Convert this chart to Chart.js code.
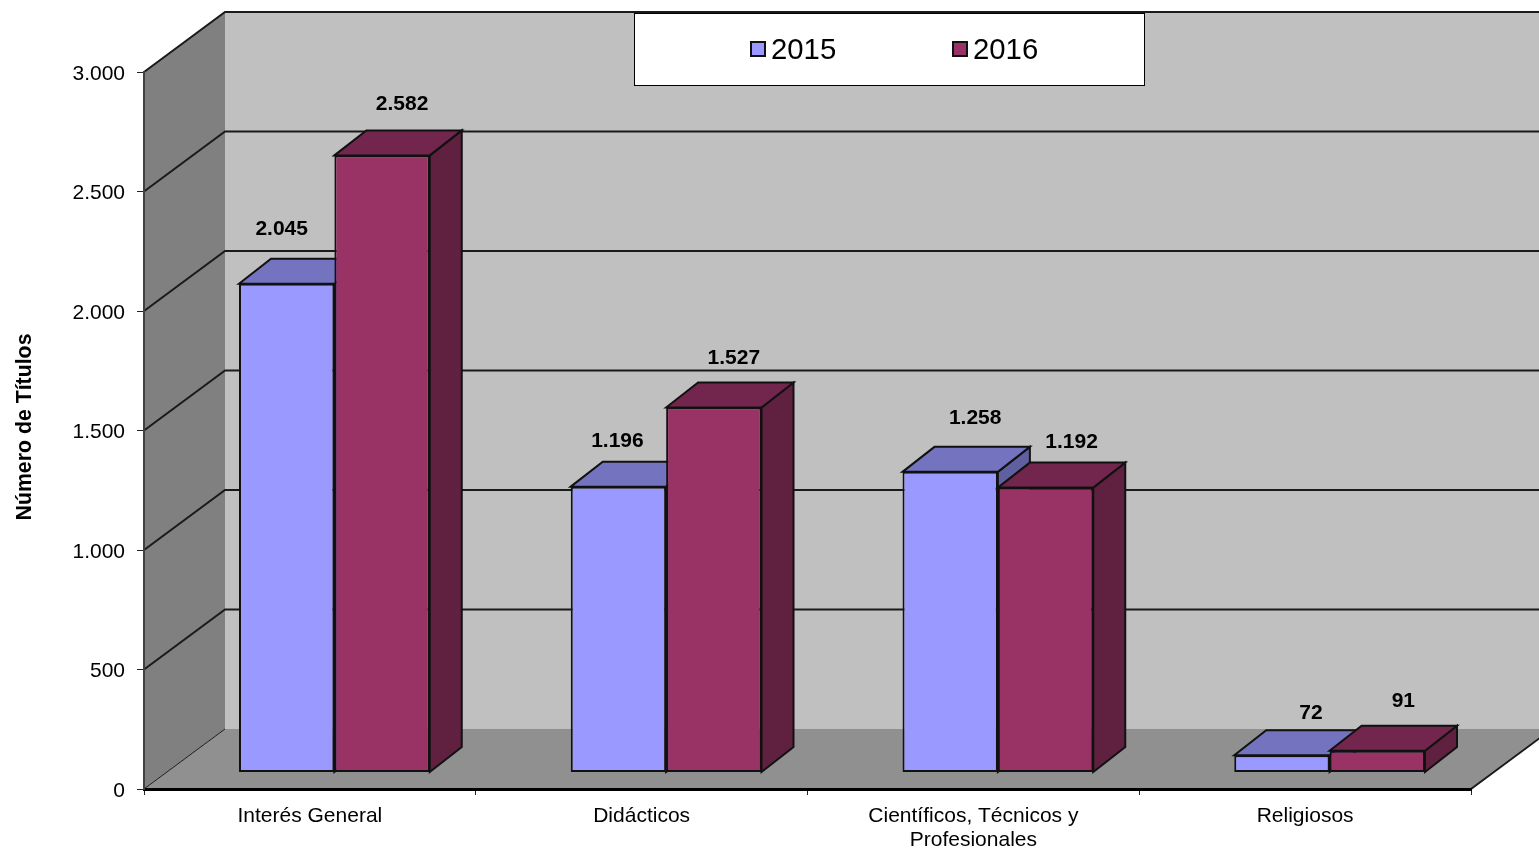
<!DOCTYPE html>
<html>
<head>
<meta charset="utf-8">
<style>html,body{margin:0;padding:0;background:#fff;overflow:hidden}canvas{display:block}</style>
<script src="https://cdn.jsdelivr.net/npm/chart.js@4"></script>
</head>
<body>
<canvas id="c" width="1539" height="851"></canvas>
<script>
const categories = ['Interés General', 'Didácticos', ['Científicos, Técnicos y', 'Profesionales'], 'Religiosos'];
const seriesNames = ['2015', '2016'];
const values2015 = [2045, 1196, 1258, 72];
const values2016 = [2582, 1527, 1192, 91];
const tickStep = 500;
const axisMax = 3000;
const axisTitle = 'Número de Títulos';

// label nudges, in pixels from the top-centre of each bar's front face
const nudgeX = [[-5, -1, 25, 29], [20, 20, 26, 26]];
const nudgeY = [[-54.5, -45.5, -53.5, -42.5], [-51.5, -49.5, -45.5, -49.5]];

const FONT = '"Liberation Sans", Arial, sans-serif';
const WALL = {dx: 81, dy: 60};
const BAR = {dx: 32, dy: 25, shiftX: 24.5, shiftY: 16.5};
const fmt = v => String(v).replace(/\B(?=(\d{3})+(?!\d))/g, '.');

const faces = [
  {front: '#9999ff', top: '#7373c0', side: '#6060a0'},
  {front: '#993366', top: '#73264d', side: '#602040'}
];

function poly(ctx, pts, fill, stroke, lw) {
  ctx.beginPath();
  pts.forEach((p, i) => i ? ctx.lineTo(p[0], p[1]) : ctx.moveTo(p[0], p[1]));
  ctx.closePath();
  if (fill) { ctx.fillStyle = fill; ctx.fill(); }
  if (stroke) { ctx.strokeStyle = stroke; ctx.lineWidth = lw; ctx.lineJoin = 'miter'; ctx.stroke(); }
}

const scene = {
  id: 'scene',
  beforeDraw(chart) {
    const {ctx, chartArea: a, scales: {y}} = chart;
    const bx = a.left + WALL.dx, d = WALL.dy;
    const far = a.right + WALL.dx;
    ctx.save();
    poly(ctx, [[bx, a.top - d], [far, a.top - d], [far, a.bottom - d], [bx, a.bottom - d]], '#c0c0c0');
    poly(ctx, [[a.left, a.top], [bx, a.top - d], [bx, a.bottom - d], [a.left, a.bottom]], '#808080');
    poly(ctx, [[a.left, a.bottom], [bx, a.bottom - d], [far, a.bottom - d], [a.right, a.bottom]], '#909090');
    ctx.strokeStyle = '#1a1a1a';
    ctx.lineWidth = 2;
    y.ticks.forEach(t => {
      const py = y.getPixelForValue(t.value);
      if (t.value === 0) return;
      ctx.beginPath();
      ctx.moveTo(a.left, py);
      ctx.lineTo(bx, py - d);
      ctx.lineTo(far, py - d);
      ctx.stroke();
    });
    ctx.lineWidth = 1;
    ctx.beginPath();
    ctx.moveTo(a.left, a.bottom);
    ctx.lineTo(bx, a.bottom - d);
    ctx.stroke();
    ctx.lineWidth = 2;
    ctx.beginPath();
    ctx.moveTo(a.right, a.bottom);
    ctx.lineTo(far, a.bottom - d);
    ctx.stroke();
    ctx.restore();
  },
  beforeDatasetsDraw(chart) {
    const {ctx, chartArea: a} = chart;
    const metas = chart.data.datasets.map((_, i) => chart.getDatasetMeta(i));
    ctx.save();
    ctx.translate(BAR.shiftX, -BAR.shiftY);
    categories.forEach((_, c) => {
      metas.forEach((m, s) => {
        const el = m.data[c];
        const {x, y, base, width} = el.getProps(['x', 'y', 'base', 'width'], true);
        const l = x - width / 2, r = x + width / 2;
        poly(ctx, [[r, y], [r + BAR.dx, y - BAR.dy], [r + BAR.dx, base - BAR.dy], [r, base]], faces[s].side, '#111', 2);
        poly(ctx, [[l, y], [l + BAR.dx, y - BAR.dy], [r + BAR.dx, y - BAR.dy], [r, y]], faces[s].top, '#111', 2);
        el.draw(ctx);
      });
    });
    ctx.fillStyle = '#000';
    ctx.font = 'bold 21px ' + FONT;
    ctx.textAlign = 'center';
    ctx.textBaseline = 'middle';
    metas.forEach((m, s) => m.data.forEach((el, c) => {
      const v = chart.data.datasets[s].data[c];
      ctx.fillText(fmt(v), el.x + nudgeX[s][c], el.y + nudgeY[s][c]);
    }));
    ctx.restore();

    // axis title, set slightly above the plot's centre as in the source
    ctx.save();
    ctx.translate(25, (a.top + a.bottom) / 2 - 3.5);
    ctx.rotate(-Math.PI / 2);
    ctx.fillStyle = '#000';
    ctx.font = 'bold 21.3px ' + FONT;
    ctx.textAlign = 'center';
    ctx.textBaseline = 'middle';
    ctx.fillText(axisTitle, 0, 0);
    ctx.restore();

    // legend
    ctx.save();
    ctx.fillStyle = '#fff';
    ctx.strokeStyle = '#000';
    ctx.lineWidth = 1;
    ctx.fillRect(634.5, 13.5, 510, 72);
    ctx.strokeRect(634.5, 13.5, 510, 72);
    ctx.font = '29.3px ' + FONT;
    ctx.textBaseline = 'middle';
    ctx.textAlign = 'left';
    chart.data.datasets.forEach((ds, i) => {
      const sx = 751 + i * 202;
      ctx.fillStyle = ds.backgroundColor;
      ctx.fillRect(sx, 42, 14, 14);
      ctx.strokeStyle = '#111';
      ctx.lineWidth = 2;
      ctx.strokeRect(sx, 42, 14, 14);
      ctx.fillStyle = '#000';
      ctx.fillText(ds.label, sx + 20, 51);
    });
    ctx.restore();
    return false;
  }
};

new Chart(document.getElementById('c'), {
  type: 'bar',
  plugins: [scene],
  data: {
    labels: categories,
    datasets: [
      {label: seriesNames[0], data: values2015, backgroundColor: faces[0].front, borderColor: '#111', borderWidth: 2, borderSkipped: false, categoryPercentage: 0.575, barPercentage: 1},
      {label: seriesNames[1], data: values2016, backgroundColor: faces[1].front, borderColor: '#111', borderWidth: 2, borderSkipped: false, categoryPercentage: 0.575, barPercentage: 1}
    ]
  },
  options: {
    responsive: false,
    animation: false,
    layout: {padding: {top: 72, right: 68, left: 0, bottom: 0}},
    plugins: {legend: {display: false}, tooltip: {enabled: false}},
    scales: {
      x: {
        afterFit(s) { s.height = 62; },
        grid: {drawOnChartArea: false, drawTicks: true, tickLength: 6, color: '#222', offset: true},
        border: {color: '#000', width: 3},
        ticks: {color: '#000', font: {family: FONT, size: 21, lineHeight: 1.15}, padding: 9, maxRotation: 0, autoSkip: false}
      },
      y: {
        min: 0, max: axisMax,
        afterFit(s) { s.width = 144; },
        grid: {drawOnChartArea: false, drawTicks: true, tickLength: 7, color: '#222'},
        border: {color: '#404040', width: 2},
        ticks: {stepSize: tickStep, color: '#000', font: {family: FONT, size: 21}, padding: 12, labelOffset: 2, callback: v => fmt(v)}
      }
    }
  }
});
</script>
</body>
</html>
